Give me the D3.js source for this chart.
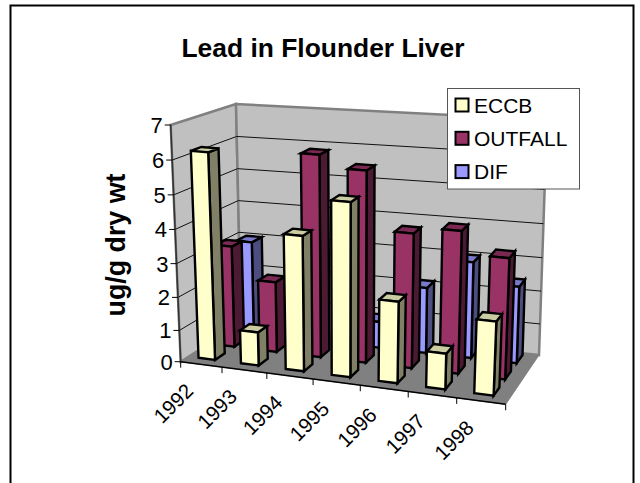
<!DOCTYPE html>
<html>
<head>
<meta charset="utf-8">
<script src="https://cdnjs.cloudflare.com/ajax/libs/d3/7.8.5/d3.min.js"></script>
<style>
  html, body { margin: 0; padding: 0; background: #fff; overflow: hidden; }
  text { font-family: "Liberation Sans", Arial, sans-serif; fill: #000; }
</style>
</head>
<body>
<div id="chart"></div>
<script>
var categories = ["1992", "1993", "1994", "1995", "1996", "1997", "1998"];
var seriesNames = ["ECCB", "OUTFALL", "DIF"];
var eccb = [6.2, 1.05, 4.05, 5.15, 2.45, 1.1, 2.2];
var outfall = [3.15, 2.2, 6.1, 5.75, 4.05, 4.25, 3.6];
var dif = [2.95, null, null, 0.85, 2.05, 2.95, 2.35];
var yTicks = [0, 1, 2, 3, 4, 5, 6, 7];

var faceColors = {
  ECCB: {front: "#FFFFCC", side: "#808066", top: "#CCCCA3"},
  OUTFALL: {front: "#993366", side: "#4D1A33", top: "#7A2952"},
  DIF: {front: "#9999FF", side: "#4D4D80", top: "#7A7ACC"}
};

var width = 640, height = 483;

var svg = d3.select("#chart").append("svg")
    .attr("width", width)
    .attr("height", height)
    .style("display", "block");

// outer chart frame, runs off the bottom of the picture
svg.append("rect")
    .attr("x", 10.5).attr("y", 5.5)
    .attr("width", 623).attr("height", 520)
    .attr("fill", "#fff").attr("stroke", "#000").attr("stroke-width", 2);

// box corners as they land on the page: front/back, left/right, bottom/top
var box = {
  flb: [180.7, 361.7], frb: [505.7, 404.3], blb: [241, 323], brb: [539, 355],
  flt: [170.7, 125], frt: [516, 155], blt: [236, 104], brt: [547, 120]
};

// slightly non linear, the picture has perspective
var xPos = d3.scalePow().exponent(1.06).domain([0, 7]).range([0, 1]);
var yPos = d3.scalePow().exponent(1.04).domain([0, 7]).range([0, 1]);

var catBand = d3.scaleBand().domain(categories).range([-0.04, 6.96]).paddingInner(0.6).paddingOuter(0.3);
var depthBand = d3.scaleBand().domain(seriesNames).range([0.05, 1.05]).paddingInner(0.5).paddingOuter(0.25);

function mix(a, b, t) { return [a[0] + (b[0] - a[0]) * t, a[1] + (b[1] - a[1]) * t]; }

// c = category units (0-7), d = depth (0-1), v = data value
function project(c, d, v) {
  var u = xPos(c), w = yPos(v);
  var bottom = mix(mix(box.flb, box.frb, u), mix(box.blb, box.brb, u), d);
  var top = mix(mix(box.flt, box.frt, u), mix(box.blt, box.brt, u), d);
  return mix(bottom, top, w);
}

function poly(points, fill, stroke, sw) {
  return svg.append("polygon")
      .attr("points", points.map(function(p) { return p.join(","); }).join(" "))
      .attr("fill", fill)
      .attr("stroke", stroke)
      .attr("stroke-width", sw)
      .attr("stroke-linejoin", "miter");
}

function line(a, b, color, sw) {
  return svg.append("line")
      .attr("x1", a[0]).attr("y1", a[1]).attr("x2", b[0]).attr("y2", b[1])
      .attr("stroke", color).attr("stroke-width", sw);
}

// walls and floor
poly([project(0, 0, 0), project(0, 1, 0), project(0, 1, 7), project(0, 0, 7)], "#C0C0C0", "#808080", 2.5);
poly([project(0, 1, 0), project(7, 1, 0), project(7, 1, 7), project(0, 1, 7)], "#C0C0C0", "#808080", 2.5);
poly([project(0, 0, 0), project(7, 0, 0), project(7, 1, 0), project(0, 1, 0)], "#808080", "#808080", 1);

// gridlines
yTicks.slice(1, -1).forEach(function(t) {
  line(project(0, 0, t), project(0, 1, t), "#111", 1);
  line(project(0, 1, t), project(7, 1, t), "#111", 1);
});

// bars, back row first
var rows = [["DIF", dif], ["OUTFALL", outfall], ["ECCB", eccb]];
rows.forEach(function(row) {
  var name = row[0], col = faceColors[name];
  var d0 = depthBand(name), d1 = d0 + depthBand.bandwidth();
  row[1].forEach(function(v, i) {
    if (v === null) return;
    var c0 = catBand(categories[i]) , c1 = c0 + catBand.bandwidth();
    poly([project(c1, d0, 0), project(c1, d1, 0), project(c1, d1, v), project(c1, d0, v)], col.side, "#000", 2.4);
    poly([project(c0, d0, v), project(c1, d0, v), project(c1, d1, v), project(c0, d1, v)], col.top, "#000", 2.4);
    poly([project(c0, d0, 0), project(c1, d0, 0), project(c1, d0, v), project(c0, d0, v)], col.front, "#000", 2.4);
  });
});

// axes
line(project(0, 0, 0), project(0, 0, 7), "#333", 1.5);
line(project(0, 0, 0), project(7, 0, 0), "#000", 1.5);

yTicks.forEach(function(t) {
  var p = project(0, 0, t);
  line([p[0] - 6, p[1]], p, "#000", 1);
  svg.append("text")
      .attr("x", p[0] - 8).attr("y", p[1] + 8)
      .attr("text-anchor", "end")
      .attr("font-size", 22)
      .text(t);
});

d3.range(0, 8).forEach(function(i) {
  var p = project(i, 0, 0);
  line(p, [p[0], p[1] + 6], "#000", 1);
});

categories.forEach(function(cat, i) {
  var p = project(i + 0.5, 0, 0);
  svg.append("text")
      .attr("transform", "translate(" + (p[0] - 6) + "," + (p[1] + 28) + ") rotate(-45)")
      .attr("text-anchor", "end")
      .attr("font-size", 20.5)
      .text(cat);
});

// titles
svg.append("text")
    .attr("x", 323).attr("y", 57)
    .attr("text-anchor", "middle")
    .attr("font-size", 26.4)
    .attr("font-weight", "bold")
    .text("Lead in Flounder Liver");

svg.append("text")
    .attr("transform", "translate(125,245) rotate(-90)")
    .attr("text-anchor", "middle")
    .attr("font-size", 26.8)
    .attr("font-weight", "bold")
    .text("ug/g dry wt");

// legend
svg.append("rect")
    .attr("x", 447.5).attr("y", 88.5)
    .attr("width", 132).attr("height", 100.5)
    .attr("fill", "#fff").attr("stroke", "#555").attr("stroke-width", 1);

seriesNames.forEach(function(name, i) {
  svg.append("rect")
      .attr("x", 455.5).attr("y", 98.5 + i * 33.3)
      .attr("width", 13).attr("height", 13)
      .attr("fill", faceColors[name].front)
      .attr("stroke", "#000").attr("stroke-width", 2);
  svg.append("text")
      .attr("x", 474).attr("y", 112.5 + i * 33.3)
      .attr("font-size", 21)
      .text(name);
});
</script>
</body>
</html>
